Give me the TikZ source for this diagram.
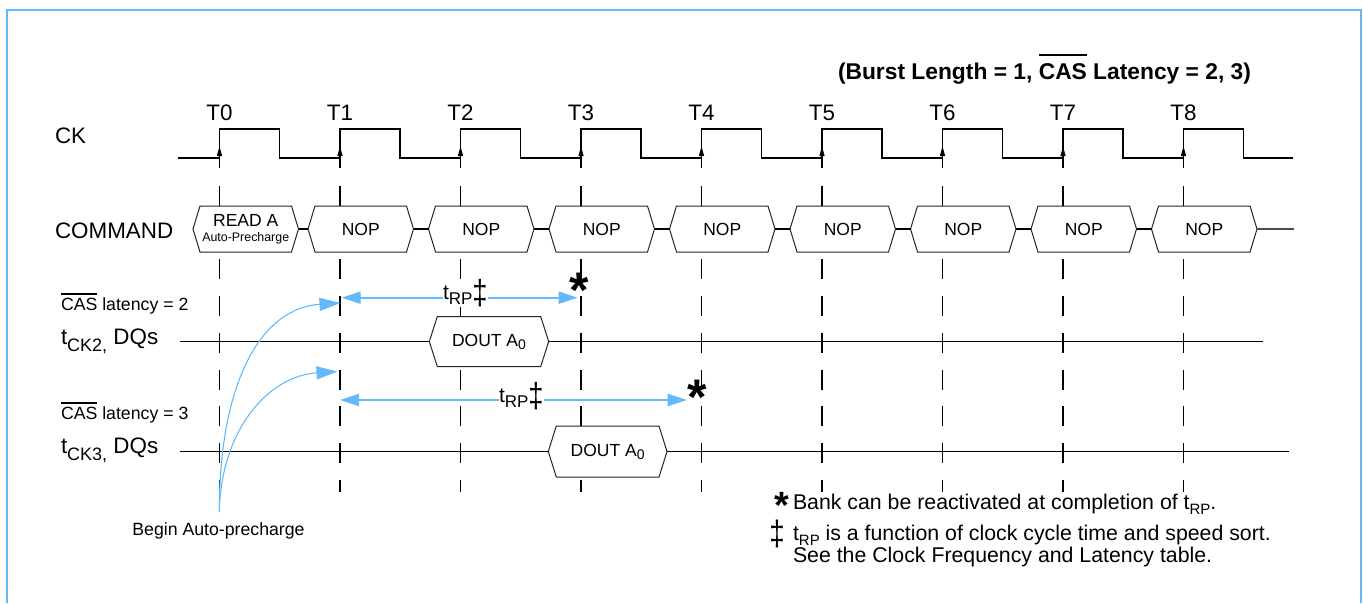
\documentclass[tikz,border=0pt]{standalone}
\usepackage{fontspec}
\usepackage{graphicx}
\setmainfont{Liberation Sans}
\usetikzlibrary{arrows.meta}
\definecolor{skyb}{RGB}{100,185,250}
\newcommand\fs[1]{\fontsize{#1}{#1}\selectfont}
\newcommand\dsub[3]{\raisebox{-#1pt}{\fs{#2}#3}}
\newcommand\ovl[3]{\setbox0\hbox{#3}\rlap{\raisebox{#1pt}{\rule{\wd0}{#2pt}}}\box0\relax}
\newcommand\talldag{\raisebox{-5pt}{\scalebox{1.3}[1.65]{‡}}}
\newcommand\hexbox[7]{%
  \draw[boxline] (#2,#4) -- ({(#2)+(#6)},{(#4)-(#5)}) -- ({(#3)-(#6)},{(#4)-(#5)}) -- (#3,#4)
     -- ({(#3)-(#6)},{(#4)+(#5)}) -- ({(#2)+(#6)},{(#4)+(#5)}) -- cycle;
  \node[boxtxt, minimum width={(#3)-(#2)}, minimum height={2*(#5)}] (#1) at ({((#2)+(#3))/2},#4) {#7};}
\tikzset{
  biglab/.style={inner sep=0pt, outer sep=0pt, font=\fs{22.4}},
  smlab/.style={inner sep=0pt, outer sep=0pt, font=\fs{17.7}},
  fnlab/.style={inner sep=0pt, outer sep=0pt, font=\fs{21.3}},
  trplab/.style={inner sep=0pt, outer sep=0pt, fill=white, font=\fs{21}},
  starlab/.style={inner sep=0pt, outer sep=0pt, font=\bfseries\fs{50}},
  titlelab/.style={inner sep=0pt, outer sep=0pt, font=\bfseries\fs{22.8}},
  boxline/.style={draw=black!85, line width=1pt, fill=white},
  boxtxt/.style={inner sep=0pt, outer sep=0pt, font=\fs{17.5}, align=center},
  sig/.style={line width=1.2pt},
  gridline/.style={line width=1.1pt, dash pattern=on 20pt off 16.7pt},
  bluecurve/.style={skyb, line width=1.1pt, -{Triangle[length=21pt,width=13pt]}},
  trparrow/.style={skyb, line width=2pt, {Triangle[length=19pt,width=12pt]}-{Triangle[length=19pt,width=12pt]}}
}
\begin{document}
\begin{tikzpicture}[x=1pt,y=-1pt]
\useasboundingbox (0,0) rectangle (1363,603);
% frame
\draw[skyb, line width=2pt] (6.7,603) -- (6.7,10) -- (1360.5,10) -- (1360.5,603);
% title
\node[titlelab, anchor=base west] (ttl) at (838,79) {(Burst Length = 1, \ovl{22.8}{2.5}{CAS} Latency = 2, 3)};
% row labels
\node[biglab, anchor=base west] (ck) at (55,143) {CK};
\node[biglab, anchor=base west] (cmd) at (55,238) {COMMAND};
\node[smlab, anchor=base west] (cas2) at (61,310) {\ovl{15.2}{1.5}{CAS} latency = 2};
\node[biglab, anchor=base west] (dq2) at (61,344.5) {t\dsub{6.5}{18}{CK2,} DQs};
\node[smlab, anchor=base west] (cas3) at (61,419) {\ovl{15.2}{1.5}{CAS} latency = 3};
\node[biglab, anchor=base west] (dq3) at (61,453.5) {t\dsub{6.5}{18}{CK3,} DQs};
% clock waveform
\draw[sig] (178,158) \foreach \n in {0,...,8}{ -- ({219.5+120.5*\n},158) -- ({219.5+120.5*\n},129)
   -- ({279.5+120.5*\n},129) -- ({279.5+120.5*\n},158)} -- (1293,158);
\foreach \n in {0,...,8}{
  \pgfmathsetmacro\x{219.5+120.5*\n}
  \draw[sig] (\x,158) -- (\x,168);
  \fill (\x,146.5) -- (\x-2.7,156) -- (\x+2.7,156) -- cycle;
  \node[biglab, anchor=base] (t\n) at (\x,120) {T\n};
  \draw[gridline] (\x,186) -- (\x,492);
}
% data lines
\coordinate (d2s) at (180,341.5);
\coordinate (d2e) at (1263,341.5);
\coordinate (d3s) at (180,451.5);
\coordinate (d3e) at (1289,451.5);
\coordinate (cmdend) at (1294,229);
% command boxes
\hexbox{rd}{193}{298.5}{229}{23}{7}{READ A\\[-2.5pt]{\fs{12.4}Auto-Precharge}}
\foreach \n in {1,...,8}{
  \pgfmathsetmacro\L{219.5+120.5*\n-32}
  \pgfmathsetmacro\R{219.5+120.5*\n+73.5}
  \hexbox{n\n}{\L}{\R}{229}{23}{7}{NOP}
}
\draw[sig] (rd.east) -- (n1.west);
\foreach \a/\b in {1/2,2/3,3/4,4/5,5/6,6/7,7/8}{\draw[sig] (n\a.east) -- (n\b.west);}
\draw[sig, black!70] (n8.east) -- (cmdend);
% data boxes
\hexbox{da}{429.3}{548.7}{341.5}{25}{8}{DOUT A\dsub{3}{14}{0}}
\hexbox{db}{548.3}{667}{451.5}{25.5}{8}{DOUT A\dsub{3}{14}{0}}
\draw[sig] (d2s) -- (da.west);
\draw[sig] (da.east) -- (d2e);
\draw[sig] (d3s) -- (db.west);
\draw[sig] (db.east) -- (d3e);
% begin auto-precharge curves
\node[smlab, anchor=base] (bap) at (218.5,535) {Begin Auto-precharge};
\coordinate (cs) at (219.3,512);
\coordinate (a2) at (340.5,303);
\coordinate (a3) at (337.5,371.5);
\draw[bluecurve] (cs) .. controls (219.3,380) and (262,308) .. (a2);
\draw[bluecurve] (cs) .. controls (221,430) and (268,376) .. (a3);
% tRP arrows
\coordinate (r2a) at (341.7,297.7);
\coordinate (r2b) at (577.7,297.7);
\coordinate (r3a) at (340,400);
\coordinate (r3b) at (686.7,400);
\draw[trparrow] (r2a) -- (r2b);
\draw[trparrow] (r3a) -- (r3b);
\node[trplab, anchor=base west] (l2) at (443,299.3) {t\dsub{5}{17}{RP}\talldag};
\node[trplab, anchor=base west] (l3) at (499,402) {t\dsub{5}{17}{RP}\talldag};
\node[starlab, anchor=base] (s2) at (579.5,307) {*};
\node[starlab, anchor=base] (s3) at (697,414) {*};
% footnotes
\node[starlab, font=\bfseries\fs{38}, anchor=base] (fstar) at (781.5,509) {\raisebox{-9pt}[12pt][0pt]{*}};
\node[fnlab, anchor=base west] (f1) at (793,509) {Bank can be reactivated at completion of t\dsub{5.5}{15}{RP}.};
\node[fnlab, anchor=base] (fdag) at (777,540.7) {\talldag};
\node[fnlab, anchor=base west] (f2) at (793,540.7) {t\dsub{4.5}{15}{RP} is a function of clock cycle time and speed sort.};
\node[fnlab, anchor=base west] (f3) at (793,562.7) {See the Clock Frequency and Latency table.};
\end{tikzpicture}
\end{document}
